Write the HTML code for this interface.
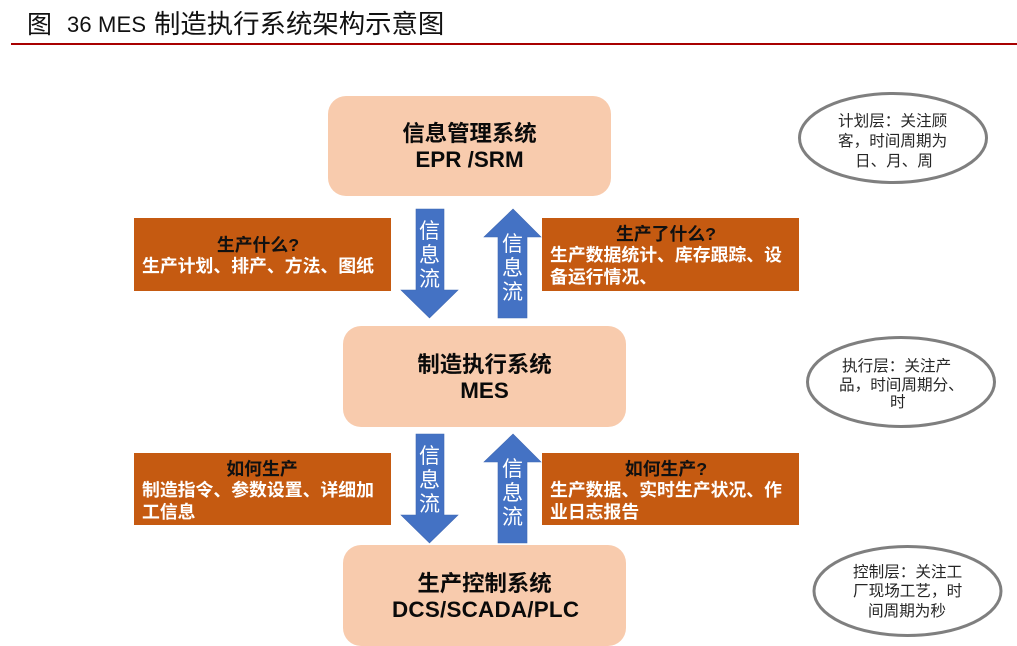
<!DOCTYPE html>
<html><head><meta charset="utf-8"><style>
html,body{margin:0;padding:0;background:#fff}
svg{display:block}
text{font-family:"Liberation Sans","Noto Sans CJK SC",sans-serif}
.p{font-size:22.4px;font-weight:700;fill:#0a0a0a;text-anchor:middle}
.o{font-size:17.85px;font-weight:700;fill:#fff}
.oh{font-size:17.85px;font-weight:700;fill:#111;text-anchor:middle}
.e{font-size:15.6px;fill:#262626}
.a{font-size:21px;fill:#fff;text-anchor:middle}
.n{fill:#f8cbad}.r{fill:#c55a11}.b{fill:#4472c4;stroke:#3f68b3;stroke-width:.6}
ellipse{fill:#fff;stroke:#7f7f7f;stroke-width:3}
</style></head><body>
<svg width="1017" height="646" viewBox="0 0 1017 646" xmlns="http://www.w3.org/2000/svg">
<text x="27" y="33" font-size="25" fill="#111">图</text>
<text x="67" y="32" font-size="22" fill="#111" textLength="79" lengthAdjust="spacing">36 MES</text>
<text x="154" y="33" font-size="26.4" fill="#111">制造执行系统架构示意图</text>
<rect x="11" y="43" width="1006" height="2" fill="#a80000"/>

<rect class="n" x="328" y="96" width="283" height="100" rx="18"/>
<rect class="n" x="343" y="326" width="283" height="101" rx="18"/>
<rect class="n" x="343" y="545" width="283" height="101" rx="18"/>
<text class="p" x="469.5" y="141">信息管理系统</text>
<text class="p" x="469.5" y="167">EPR /SRM</text>
<text class="p" x="484.5" y="372">制造执行系统</text>
<text class="p" x="484.5" y="398">MES</text>
<text class="p" x="484.5" y="591">生产控制系统</text>
<text class="p" x="485.5" y="617" textLength="187" lengthAdjust="spacing">DCS/SCADA/PLC</text>

<rect class="r" x="134" y="218" width="257" height="73"/>
<rect class="r" x="542" y="218" width="257" height="73"/>
<rect class="r" x="134" y="453" width="257" height="72"/>
<rect class="r" x="542" y="453" width="257" height="72"/>
<text class="oh" x="258" y="251">生产什么?</text>
<text class="o" x="142" y="272">生产计划、排产、方法、图纸</text>
<text class="oh" x="666" y="240">生产了什么?</text>
<text class="o" x="550" y="261">生产数据统计、库存跟踪、设</text>
<text class="o" x="550" y="283">备运行情况、</text>
<text class="oh" x="262" y="475">如何生产</text>
<text class="o" x="142" y="496">制造指令、参数设置、详细加</text>
<text class="o" x="142" y="518">工信息</text>
<text class="oh" x="666" y="475">如何生产?</text>
<text class="o" x="550" y="496">生产数据、实时生产状况、作</text>
<text class="o" x="550" y="518">业日志报告</text>

<polygon class="b" points="416,209 444,209 444,290 458,290 429.5,318 401,290 416,290"/>
<polygon class="b" points="513,209 541,237 527,237 527,318 498,318 498,237 484,237"/>
<polygon class="b" points="416,434 444,434 444,515 458,515 429.5,543 401,515 416,515"/>
<polygon class="b" points="513,434 541,462 527,462 527,543 498,543 498,462 484,462"/>
<text class="a" x="429.5" y="238">信</text><text class="a" x="429.5" y="262">息</text><text class="a" x="429.5" y="286">流</text>
<text class="a" x="512.5" y="251">信</text><text class="a" x="512.5" y="275">息</text><text class="a" x="512.5" y="299">流</text>
<text class="a" x="429.5" y="463">信</text><text class="a" x="429.5" y="487">息</text><text class="a" x="429.5" y="511">流</text>
<text class="a" x="512.5" y="476">信</text><text class="a" x="512.5" y="500">息</text><text class="a" x="512.5" y="524">流</text>

<ellipse cx="893" cy="138" rx="93.5" ry="44.5"/>
<ellipse cx="901" cy="382" rx="93.5" ry="44.5"/>
<ellipse cx="907.5" cy="591" rx="93.5" ry="44.5"/>
<text class="e" x="838" y="126">计划层&#xFF1A;关注顾</text>
<text class="e" x="838" y="146">客&#xFF0C;时间周期为</text>
<text class="e" x="855" y="166">日、月、周</text>
<text class="e" x="842" y="371">执行层&#xFF1A;关注产</text>
<text class="e" x="839" y="390">品&#xFF0C;时间周期分、</text>
<text class="e" x="890" y="407">时</text>
<text class="e" x="853" y="577">控制层&#xFF1A;关注工</text>
<text class="e" x="853" y="596">厂现场工艺&#xFF0C;时</text>
<text class="e" x="868" y="616">间周期为秒</text>
</svg>
</body></html>
